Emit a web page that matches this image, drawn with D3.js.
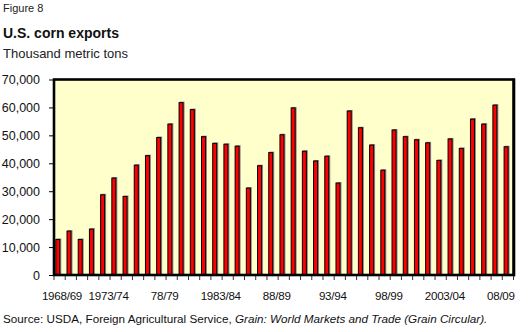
<!DOCTYPE html>
<html>
<head>
<meta charset="utf-8">
<script src="https://cdn.jsdelivr.net/npm/d3@7"></script>
<style>
  html, body { margin: 0; padding: 0; background: #fff; }
  svg { display: block; font-family: "Liberation Sans", Arial, sans-serif; }
</style>
</head>
<body>
<svg id="chart" width="530" height="332"></svg>
<script>
// Marketing years, 1968/69 through 2008/09
const categories = [
  "1968/69","1969/70","1970/71","1971/72","1972/73","1973/74","1974/75","1975/76",
  "1976/77","1977/78","1978/79","1979/80","1980/81","1981/82","1982/83","1983/84",
  "1984/85","1985/86","1986/87","1987/88","1988/89","1989/90","1990/91","1991/92",
  "1992/93","1993/94","1994/95","1995/96","1996/97","1997/98","1998/99","1999/00",
  "2000/01","2001/02","2002/03","2003/04","2004/05","2005/06","2006/07","2007/08",
  "2008/09"
];

// U.S. corn exports, thousand metric tons
const exportsKt = [
  12900, 15900, 12900, 16600, 28900, 34900, 28300, 39500, 42900, 49400,
  54200, 61900, 59400, 49700, 47300, 47000, 46300, 31300, 39300, 44000,
  50400, 60000, 44500, 41000, 42700, 33100, 58900, 52900, 46700, 37700,
  52100, 49700, 48600, 47500, 41200, 48900, 45500, 56000, 54200, 61000,
  46100
];

// Axis labels
const xTickCategories = ["1968/69","1973/74","1978/79","1983/84","1988/89","1993/94","1998/99","2003/04","2008/09"];
const xTickLabels     = ["1968/69","1973/74","78/79","1983/84","88/89","93/94","98/99","2003/04","08/09"];
const yTicks = [0, 10000, 20000, 30000, 40000, 50000, 60000, 70000];

const svg = d3.select("#chart");
const plot = { left: 54, right: 513.5, top: 79.5, bottom: 275 };

const x = d3.scaleBand().domain(categories).range([plot.left, plot.right]).padding(0);
const y = d3.scaleLinear().domain([0, 70000]).range([plot.bottom, plot.top]);

// Header text
svg.append("text").attr("x", 3).attr("y", 12).attr("font-size", 11).attr("fill", "#222").text("Figure 8");
svg.append("text").attr("x", 3).attr("y", 38).attr("font-size", 14).attr("font-weight", "bold").attr("fill", "#111").text("U.S. corn exports");
svg.append("text").attr("x", 3).attr("y", 57.5).attr("font-size", 13).attr("fill", "#222").text("Thousand metric tons");

// Plot area background
svg.append("rect")
  .attr("x", plot.left).attr("y", plot.top)
  .attr("width", plot.right - plot.left).attr("height", plot.bottom - plot.top)
  .attr("fill", "#FFFFCC");

// Bars: soft grey shadow, then red bar with black outline
const barOffset = 1.3, barW = 5;
svg.append("g").selectAll("rect")
  .data(exportsKt)
  .join("rect")
  .attr("x", (d, i) => x(categories[i]) + barOffset + 1)
  .attr("y", d => y(d) - 0.5)
  .attr("width", barW)
  .attr("height", d => plot.bottom - y(d))
  .attr("fill", "#8a8a8a");

svg.append("g").selectAll("rect")
  .data(exportsKt)
  .join("rect")
  .attr("x", (d, i) => x(categories[i]) + barOffset + 0.5)
  .attr("y", d => y(d) + 0.5)
  .attr("width", barW - 1)
  .attr("height", d => plot.bottom - y(d) - 0.5)
  .attr("fill", "#FF0000")
  .attr("stroke", "#000")
  .attr("stroke-width", 1);

// Frame around plot area
svg.append("rect")
  .attr("x", plot.left).attr("y", plot.top)
  .attr("width", plot.right - plot.left).attr("height", plot.bottom - plot.top)
  .attr("fill", "none").attr("stroke", "#000").attr("stroke-width", 2.6);
// heavier right edge
svg.append("line")
  .attr("x1", plot.right + 0.8).attr("x2", plot.right + 0.8)
  .attr("y1", plot.top - 1).attr("y2", plot.bottom + 1.3)
  .attr("stroke", "#000").attr("stroke-width", 2);

// Y axis
const yAxis = d3.axisLeft(y).tickValues(yTicks).tickSize(4).tickPadding(9)
  .tickFormat(d3.format(","));
const gy = svg.append("g").attr("transform", `translate(${plot.left - 1},0)`).call(yAxis);
gy.select(".domain").remove();
gy.selectAll(".tick line").attr("stroke", "#000");
gy.selectAll(".tick text").attr("font-size", 12.5).attr("fill", "#111")
  .attr("font-family", "Liberation Sans, Arial, sans-serif");

// X axis: tick marks at category boundaries
const boundaries = categories.map(c => x(c)).concat([plot.right]);
svg.append("g").selectAll("line")
  .data(boundaries)
  .join("line")
  .attr("x1", d => d).attr("x2", d => d)
  .attr("y1", plot.bottom + 1).attr("y2", plot.bottom + 5)
  .attr("stroke", "#333").attr("stroke-width", 1);

// X tick labels, every fifth year
svg.append("g").selectAll("text")
  .data(xTickCategories)
  .join("text")
  .attr("x", d => Math.max(x(d) + x.bandwidth() / 2 - 7, 62))
  .attr("y", 299.5)
  .attr("text-anchor", "middle")
  .attr("font-size", 11.6)
  .attr("letter-spacing", -0.25)
  .attr("fill", "#111")
  .text((d, i) => xTickLabels[i]);

// Source note
const src = svg.append("text").attr("x", 3).attr("y", 323).attr("font-size", 11.7).attr("fill", "#111");
src.append("tspan").text("Source: USDA, Foreign Agricultural Service, ");
src.append("tspan").attr("font-style", "italic").text("Grain: World Markets and Trade (Grain Circular).");
</script>
</body>
</html>
